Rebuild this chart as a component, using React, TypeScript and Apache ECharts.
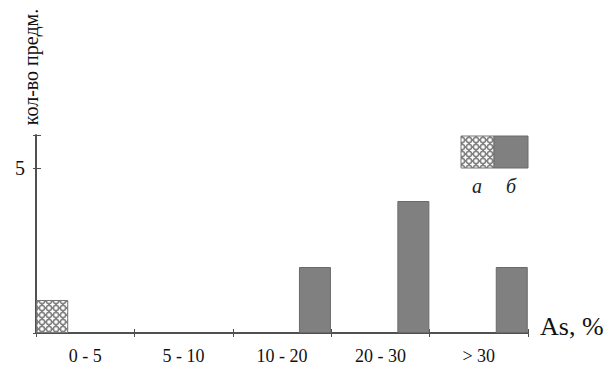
import React, { useEffect, useRef } from "react";
import * as echarts from "echarts";

const categories = ["0 - 5", "5 - 10", "10 - 20", "20 - 30", "> 30"];
const seriesA = [1, 0, 0, 0, 0];
const seriesB = [0, 0, 2, 4, 2];
const yTicks = [5];
const legendLabels = ["а", "б"];

function makePattern(): HTMLCanvasElement {
  const s = 7;
  const r = 3.1;
  const c = document.createElement("canvas");
  c.width = s;
  c.height = s;
  const ctx = c.getContext("2d")!;
  ctx.fillStyle = "#ffffff";
  ctx.fillRect(0, 0, s, s);
  ctx.strokeStyle = "#6e6e6e";
  ctx.lineWidth = 0.9;
  const centers = [
    [s / 2, s / 2],
    [0, 0],
    [s, 0],
    [0, s],
    [s, s],
  ];
  for (const [cx, cy] of centers) {
    ctx.beginPath();
    ctx.arc(cx, cy, r, 0, Math.PI * 2);
    ctx.stroke();
  }
  return c;
}

export default function App() {
  const ref = useRef<HTMLDivElement>(null);
  useEffect(() => {
    if (!ref.current) return;
    const chart = echarts.init(ref.current, null, { renderer: "svg" });
    const pattern = { image: makePattern(), repeat: "repeat" } as any;
    const gray = "#808080";
    const axisColor = "#505050";
    const font = "Liberation Serif, Times New Roman, serif";
    chart.setOption({
      animation: false,
      backgroundColor: "#ffffff",
      grid: { left: 36, right: 85, top: 135, bottom: 43 },
      xAxis: [
        {
          type: "category",
          data: categories,
          boundaryGap: true,
          axisLine: { lineStyle: { color: axisColor, width: 2 } },
          axisTick: { show: true, length: 4, lineStyle: { color: axisColor, width: 1 } },
          axisLabel: { color: "#111", fontFamily: font, fontSize: 18, margin: 14 },
        },
        {
          type: "category",
          data: categories,
          position: "bottom",
          boundaryGap: true,
          axisLine: { show: false },
          axisTick: { show: true, inside: true, length: 4, lineStyle: { color: axisColor, width: 1 } },
          axisLabel: { show: false },
        },
      ],
      yAxis: [
        {
          type: "value",
          min: 0,
          max: 6,
          interval: 5,
          splitLine: { show: false },
          axisLine: { show: true, lineStyle: { color: axisColor, width: 2 } },
          axisTick: { show: true, length: 3, lineStyle: { color: axisColor, width: 1 } },
          axisLabel: {
            color: "#111",
            fontFamily: font,
            fontSize: 20,
            margin: 11,
            formatter: (v: number) => (yTicks.includes(v) ? String(v) : ""),
          },
        },
        {
          type: "value",
          min: 0,
          max: 6,
          interval: 5,
          position: "left",
          splitLine: { show: false },
          axisLine: { show: false },
          axisTick: { show: true, inside: true, length: 5, lineStyle: { color: axisColor, width: 1 } },
          axisLabel: { show: false },
        },
      ],
      series: [
        {
          type: "bar",
          name: legendLabels[0],
          data: seriesA.map((v) => (v ? v : "-")),
          barWidth: 32,
          barGap: "106%",
          itemStyle: { color: pattern, borderColor: "#777", borderWidth: 1 },
        },
        {
          type: "bar",
          name: legendLabels[1],
          data: seriesB.map((v) => (v ? v : "-")),
          barWidth: 32,
          itemStyle: { color: gray, borderColor: "#6a6a6a", borderWidth: 1 },
        },
      ],
      graphic: [
        {
          type: "text",
          x: 31,
          y: 67,
          rotation: Math.PI / 2,
          style: {
            text: "кол-во предм.",
            fontFamily: font,
            fontSize: 20,
            fill: "#111",
            align: "center",
            verticalAlign: "middle",
          },
        },
        {
          type: "text",
          x: 540,
          y: 326,
          style: {
            text: "As, %",
            fontFamily: font,
            fontSize: 26,
            fill: "#111",
            align: "left",
            verticalAlign: "middle",
          },
        },
        {
          type: "rect",
          shape: { x: 461, y: 136, width: 33, height: 32 },
          style: { fill: pattern, stroke: "#777", lineWidth: 1 },
        },
        {
          type: "rect",
          shape: { x: 494, y: 136, width: 34, height: 32 },
          style: { fill: gray, stroke: "#6a6a6a", lineWidth: 1 },
        },
        {
          type: "text",
          x: 477,
          y: 186,
          style: {
            text: legendLabels[0],
            fontFamily: font,
            fontStyle: "italic",
            fontSize: 20,
            fill: "#222",
            align: "center",
            verticalAlign: "middle",
          },
        },
        {
          type: "text",
          x: 511,
          y: 186,
          style: {
            text: legendLabels[1],
            fontFamily: font,
            fontStyle: "italic",
            fontSize: 20,
            fill: "#222",
            align: "center",
            verticalAlign: "middle",
          },
        },
      ],
    });
    return () => chart.dispose();
  }, []);
  return <div ref={ref} style={{ width: 613, height: 376, position: "fixed", left: 0, top: 0 }} />;
}
